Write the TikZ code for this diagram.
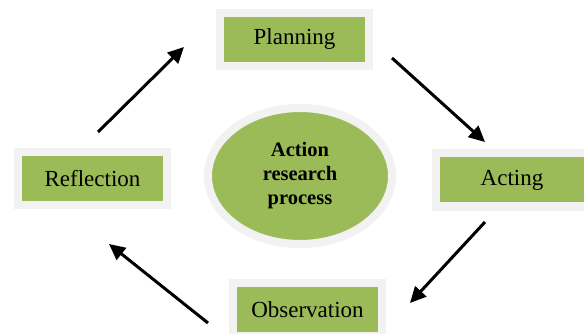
\documentclass[tikz,border=0pt]{standalone}
\usepackage{fontspec}
\setmainfont{Liberation Serif}
\usetikzlibrary{shapes.geometric,arrows.meta}
\definecolor{leaf}{HTML}{9BBB59}
\definecolor{halo}{HTML}{F2F2F2}
\tikzset{
  stagebox/.style={rectangle, fill=leaf, draw=halo, line width=8pt,
    minimum width=149pt, minimum height=53pt, inner sep=0pt,
    font=\fontsize{23}{26}\selectfont},
  hub/.style={ellipse, fill=leaf, draw=halo, line width=8pt,
    minimum width=184pt, minimum height=136pt, inner sep=0pt, align=center,
    font=\fontsize{20.5}{24}\selectfont\bfseries},
  flow/.style={line width=3pt, -{Triangle[length=16pt,width=15pt]}}
}
\begin{document}
\begin{tikzpicture}[x=1pt,y=-1pt]
  \useasboundingbox (0,0) rectangle (584,334);
  \clip (0,0) rectangle (584,334);
  \fill[white] (0,0) rectangle (584,334);

  % stages of the cycle
  \node[stagebox] (plan) at (294.5,39.5) {Planning};
  \node[stagebox, minimum width=152pt] (act) at (512,180) {Acting};
  \node[stagebox] (obs) at (307.5,309.5) {Observation};
  \node[stagebox] (refl) at (92.5,178.5) {Reflection};

  % centre of the cycle
  \node[hub] (core) at (300,176) {Action\\research\\process};

  % arrow end points
  \coordinate (r1) at (98,132);   \coordinate (p1) at (184,47);
  \coordinate (p2) at (392,58);   \coordinate (a1) at (485,142);
  \coordinate (a2) at (485,222);  \coordinate (o1) at (410,303);
  \coordinate (o2) at (208,323);  \coordinate (r2) at (109,244);

  \draw[flow] (r1) -- (p1);
  \draw[flow] (p2) -- (a1);
  \draw[flow] (a2) -- (o1);
  \draw[flow] (o2) -- (r2);
\end{tikzpicture}
\end{document}
